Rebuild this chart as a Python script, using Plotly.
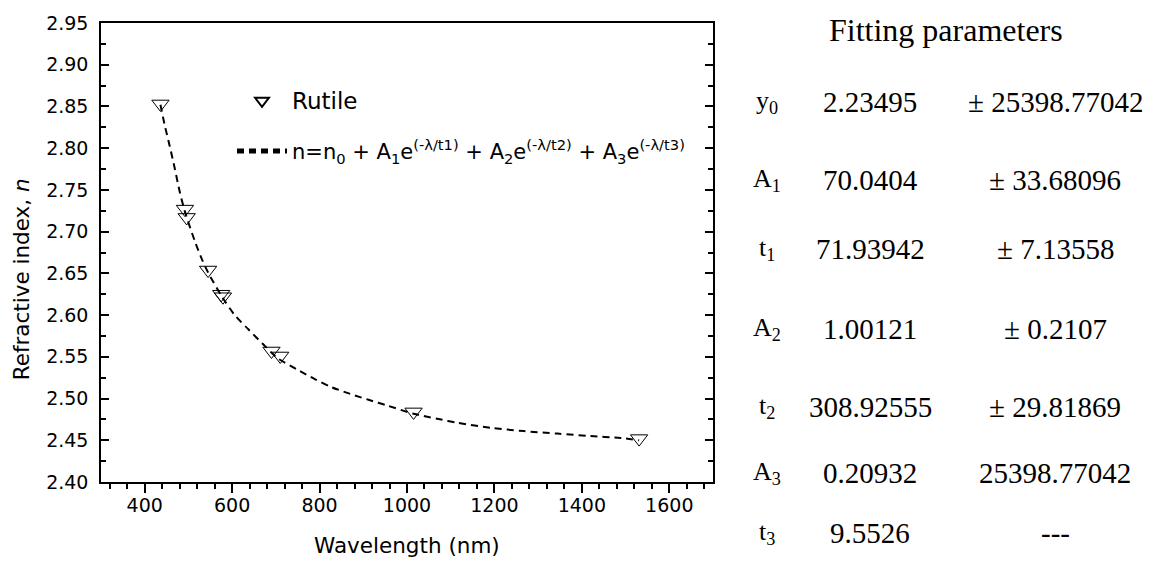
import plotly.graph_objects as go

# ---------------- data ----------------
wavelength_nm = [436, 492, 496, 545, 575, 579, 690, 710, 1015, 1531]
refractive_index = [2.853, 2.727, 2.717, 2.654, 2.625, 2.622, 2.557, 2.551, 2.484, 2.452]

fit_wavelength_nm = [436, 446, 457, 469, 480, 492, 515, 530, 545, 578, 606, 637, 671,
                     690, 705, 748, 790, 828, 870, 912, 954, 1015, 1069, 1115, 1191,
                     1267, 1344, 1420, 1489, 1531]
fit_refractive_index = [2.852, 2.827, 2.803, 2.775, 2.748, 2.724, 2.688, 2.668, 2.651,
                        2.621, 2.600, 2.583, 2.565, 2.555, 2.548, 2.535, 2.523, 2.5135,
                        2.5056, 2.4985, 2.4917, 2.4818, 2.4758, 2.471, 2.465, 2.461,
                        2.458, 2.455, 2.4527, 2.450]

series_name = "Rutile"
fit_name = ("n=n<sub>0</sub> + A<sub>1</sub>e<sup>(-λ/t1)</sup> + "
            "A<sub>2</sub>e<sup>(-λ/t2)</sup> + A<sub>3</sub>e<sup>(-λ/t3)</sup>")

x_title = "Wavelength (nm)"
y_title = "Refractive index, <i>n</i>"

table_title = "Fitting parameters"
param_names = ["y<sub>0</sub>", "A<sub>1</sub>", "t<sub>1</sub>", "A<sub>2</sub>",
               "t<sub>2</sub>", "A<sub>3</sub>", "t<sub>3</sub>"]
param_values = ["2.23495", "70.0404", "71.93942", "1.00121", "308.92555", "0.20932", "9.5526"]
param_errors = ["± 25398.77042", "± 33.68096", "± 7.13558", "± 0.2107", "± 29.81869",
                "25398.77042", "---"]

# ---------------- layout constants ----------------
W, H = 1154, 563
L, R, T, B = 101, 441, 20, 81
PW, PH = W - L - R, H - T - B
ROW_Y_PX = [100, 178, 247, 328, 407, 473, 533]
COL_X_PX = [767, 870, 1055]

def px_x(px):
    return (px - L) / PW

def px_y(py):
    return (H - B - py) / PH

SANS = "DejaVu Sans"
SERIF = "Liberation Serif"

fig = go.Figure()
fig.add_trace(go.Scatter(
    x=wavelength_nm, y=refractive_index, mode="markers",
    name='<span style="font-size:23px">%s</span>' % series_name,
    legendgroup="a",
    marker=dict(symbol="triangle-down-open", size=15, color="black",
                line=dict(width=1, color="black")),
))
fig.add_trace(go.Scatter(
    x=fit_wavelength_nm, y=fit_refractive_index, mode="lines", name=fit_name,
    legendgroup="b",
    line=dict(color="black", width=2, dash="7px,5px", shape="spline", smoothing=0.8),
))

annotations = [
    dict(text=x_title, x=px_x(407), y=px_y(546), xref="paper", yref="paper",
         showarrow=False, xanchor="center", yanchor="middle",
         font=dict(family=SANS, size=21.5, color="black")),
    dict(text=y_title, x=px_x(21), y=px_y(278), xref="paper", yref="paper",
         showarrow=False, xanchor="center", yanchor="middle", textangle=-90,
         font=dict(family=SANS, size=21.5, color="black")),
    dict(text=table_title, x=px_x(946), y=px_y(27), xref="paper", yref="paper",
         showarrow=False, xanchor="center", yanchor="middle",
         font=dict(family=SERIF, size=32, color="black")),
]
for name, val, err, ry in zip(param_names, param_values, param_errors, ROW_Y_PX):
    annotations.append(dict(text=name, x=px_x(COL_X_PX[0]), y=px_y(ry), xref="paper",
                            yref="paper", showarrow=False, xanchor="center",
                            yanchor="middle",
                            font=dict(family=SERIF, size=26, color="black")))
    annotations.append(dict(text=val, x=px_x(COL_X_PX[1]), y=px_y(ry), xref="paper",
                            yref="paper", showarrow=False, xanchor="center",
                            yanchor="middle",
                            font=dict(family=SERIF, size=29, color="black")))
    annotations.append(dict(text=err, x=px_x(COL_X_PX[2]), y=px_y(ry), xref="paper",
                            yref="paper", showarrow=False, xanchor="center",
                            yanchor="middle",
                            font=dict(family=SERIF, size=29, color="black")))

fig.update_layout(
    width=W, height=H,
    margin=dict(l=L, r=R, t=T, b=B, pad=0),
    paper_bgcolor="white", plot_bgcolor="white",
    font=dict(family=SANS, color="black"),
    showlegend=True,
    legend=dict(x=px_x(232), y=px_y(78), xanchor="left", yanchor="top",
                bgcolor="rgba(0,0,0,0)", borderwidth=0,
                font=dict(family=SANS, size=21, color="black"),
                traceorder="grouped", tracegroupgap=20,
                itemsizing="constant", itemwidth=50),
    annotations=annotations,
    xaxis=dict(range=[300, 1700], tick0=0, dtick=200, showgrid=False, zeroline=False,
               showline=True, linecolor="black", linewidth=1.5, mirror=True,
               ticks="outside", ticklen=9, tickwidth=1.5, tickcolor="black",
               tickfont=dict(family=SANS, size=19, color="black"),
               ticklabelstandoff=-4,
               minor=dict(dtick=40, tick0=0, ticks="outside", ticklen=5,
                          tickwidth=1.5, tickcolor="black", showgrid=False)),
    yaxis=dict(range=[2.40, 2.95], tick0=2.40, dtick=0.05, tickformat=".2f",
               showgrid=False, zeroline=False,
               showline=True, linecolor="black", linewidth=1.5, mirror="ticks",
               ticks="inside", ticklen=8, tickwidth=1.5, tickcolor="black",
               tickfont=dict(family=SANS, size=19, color="black"),
               ticklabelstandoff=7,
               minor=dict(dtick=0.025, tick0=2.40, ticks="inside", ticklen=5,
                          tickwidth=1.5, tickcolor="black", showgrid=False)),
)

fig.write_html("out.html")
